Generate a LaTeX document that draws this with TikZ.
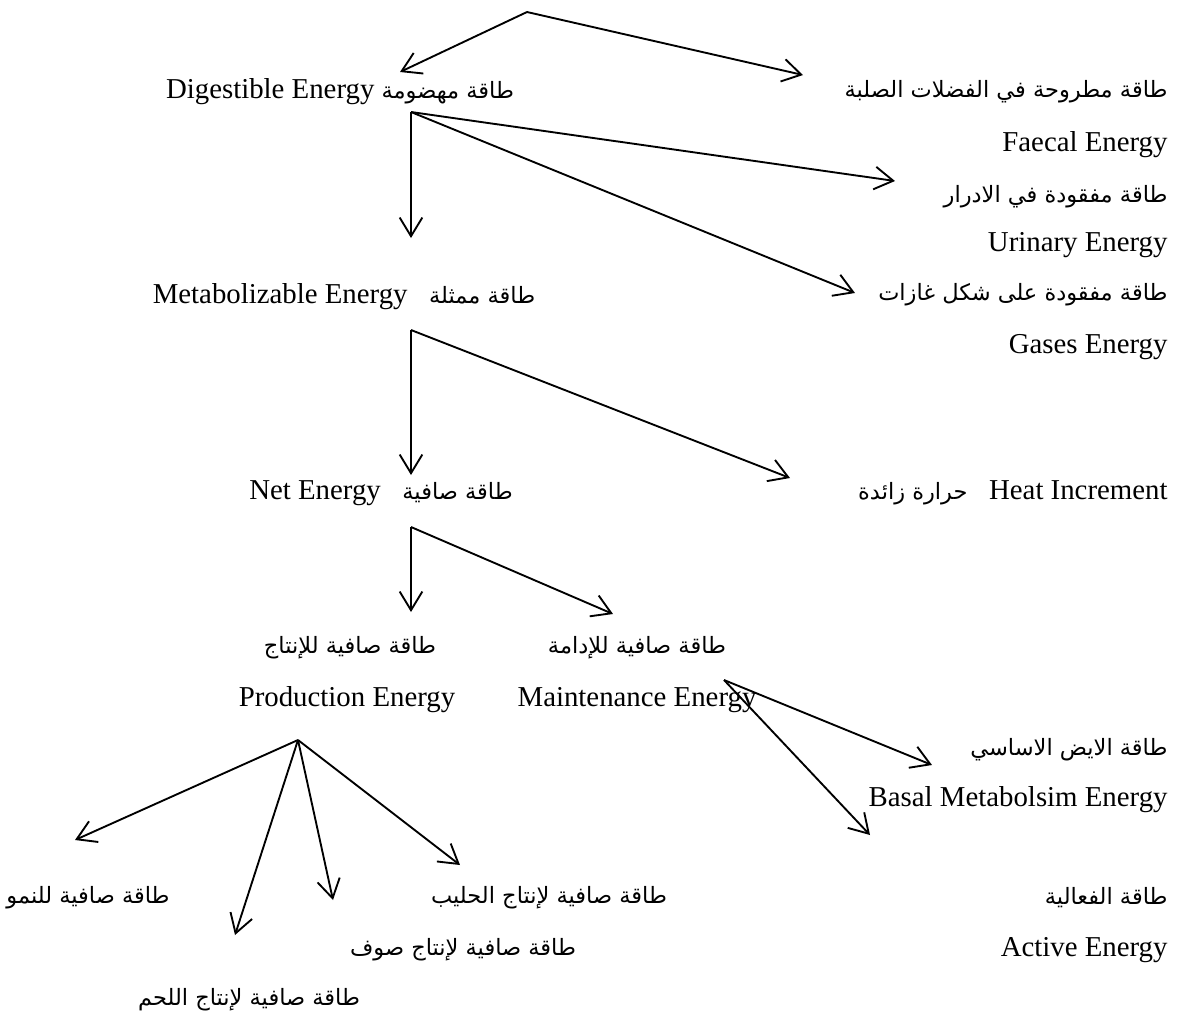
\documentclass[tikz,border=0pt]{standalone}
\usepackage{fontspec}
\setmainfont{Liberation Serif}
\newfontfamily\arabicfont[Script=Arabic]{DejaVu Sans}
\TeXXeTstate=1
\usetikzlibrary{arrows.meta}
\newcommand{\ar}[1]{{\arabicfont\fontsize{9.6}{12}\selectfont\beginR #1\endR}}
\tikzset{
    label text/.style={inner sep=0pt, font=\fontsize{12.3}{14}\selectfont},
    right text/.style={label text, anchor=east},
    flow/.style={line width=0.8pt, -{Straight Barb[length=2.8mm,width=3.4mm]}}
}
\begin{document}
\begin{tikzpicture}[x=0.015cm,y=-0.015cm]
    \useasboundingbox (0,0) rectangle (1185,1021);

    \node[label text] (de) at (340,92){Digestible Energy \ar{طاقة مهضومة}};
    \node[label text] (me) at (344,297){Metabolizable Energy\hspace{0.5em} \ar{طاقة ممثلة}};
    \node[label text] (ne) at (381,493){Net Energy\hspace{0.5em} \ar{طاقة صافية}};
    \node[label text] (prodAr) at (350,648){\ar{طاقة صافية للإنتاج}};
    \node[label text] (maintAr) at (637,648){\ar{طاقة صافية للإدامة}};
    \node[label text] (prodEn) at (347,700){Production Energy};
    \node[label text] (maintEn) at (637,700){Maintenance Energy};

    \node[right text] (faecalAr) at (1168,92){\ar{طاقة مطروحة في الفضلات الصلبة}};
    \node[right text] (faecalEn) at (1168,145){Faecal Energy};
    \node[right text] (urinaryAr) at (1168,197){\ar{طاقة مفقودة في الادرار}};
    \node[right text] (urinaryEn) at (1168,245){Urinary Energy};
    \node[right text] (gasesAr) at (1168,295){\ar{طاقة مفقودة على شكل غازات}};
    \node[right text] (gasesEn) at (1168,347){Gases Energy};
    \node[right text] (heat) at (1168,493){\ar{حرارة زائدة}\hspace{0.5em} Heat Increment};
    \node[right text] (basalAr) at (1168,750){\ar{طاقة الايض الاساسي}};
    \node[right text] (basalEn) at (1168,800){Basal Metabolsim Energy};
    \node[right text] (activeAr) at (1168,898){\ar{طاقة الفعالية}};
    \node[right text] (activeEn) at (1168,950){Active Energy};

    \node[label text] (growth) at (88,898){\ar{طاقة صافية للنمو}};
    \node[label text] (milk) at (549,898){\ar{طاقة صافية لإنتاج الحليب}};
    \node[label text] (wool) at (463,950){\ar{طاقة صافية لإنتاج صوف}};
    \node[label text] (meat) at (249,1000){\ar{طاقة صافية لإنتاج اللحم}};

    \coordinate (top) at (527,12);
    \coordinate (deIn) at (400,72);
    \coordinate (faecalIn) at (803,75);
    \coordinate (deOut) at (411,112);
    \coordinate (meIn) at (411,238);
    \coordinate (urinaryIn) at (895,181);
    \coordinate (gasesIn) at (855,293);
    \coordinate (meOut) at (411,330);
    \coordinate (neIn) at (411,475);
    \coordinate (heatIn) at (790,478);
    \coordinate (neOut) at (411,527);
    \coordinate (prodIn) at (411,612);
    \coordinate (maintIn) at (613,614);
    \coordinate (maintOut) at (724,680);
    \coordinate (basalIn) at (932,765);
    \coordinate (activeIn) at (870,835);
    \coordinate (prodOut) at (298,740);
    \coordinate (growthIn) at (75,840);
    \coordinate (meatIn) at (235,935);
    \coordinate (woolIn) at (333,900);
    \coordinate (milkIn) at (460,865);

    \draw[flow] (top) -- (deIn);
    \draw[flow] (top) -- (faecalIn);
    \draw[flow] (deOut) -- (meIn);
    \draw[flow] (deOut) -- (urinaryIn);
    \draw[flow] (deOut) -- (gasesIn);
    \draw[flow] (meOut) -- (neIn);
    \draw[flow] (meOut) -- (heatIn);
    \draw[flow] (neOut) -- (prodIn);
    \draw[flow] (neOut) -- (maintIn);
    \draw[flow] (maintOut) -- (basalIn);
    \draw[flow] (maintOut) -- (activeIn);
    \draw[flow] (prodOut) -- (growthIn);
    \draw[flow] (prodOut) -- (meatIn);
    \draw[flow] (prodOut) -- (woolIn);
    \draw[flow] (prodOut) -- (milkIn);
\end{tikzpicture}
\end{document}
